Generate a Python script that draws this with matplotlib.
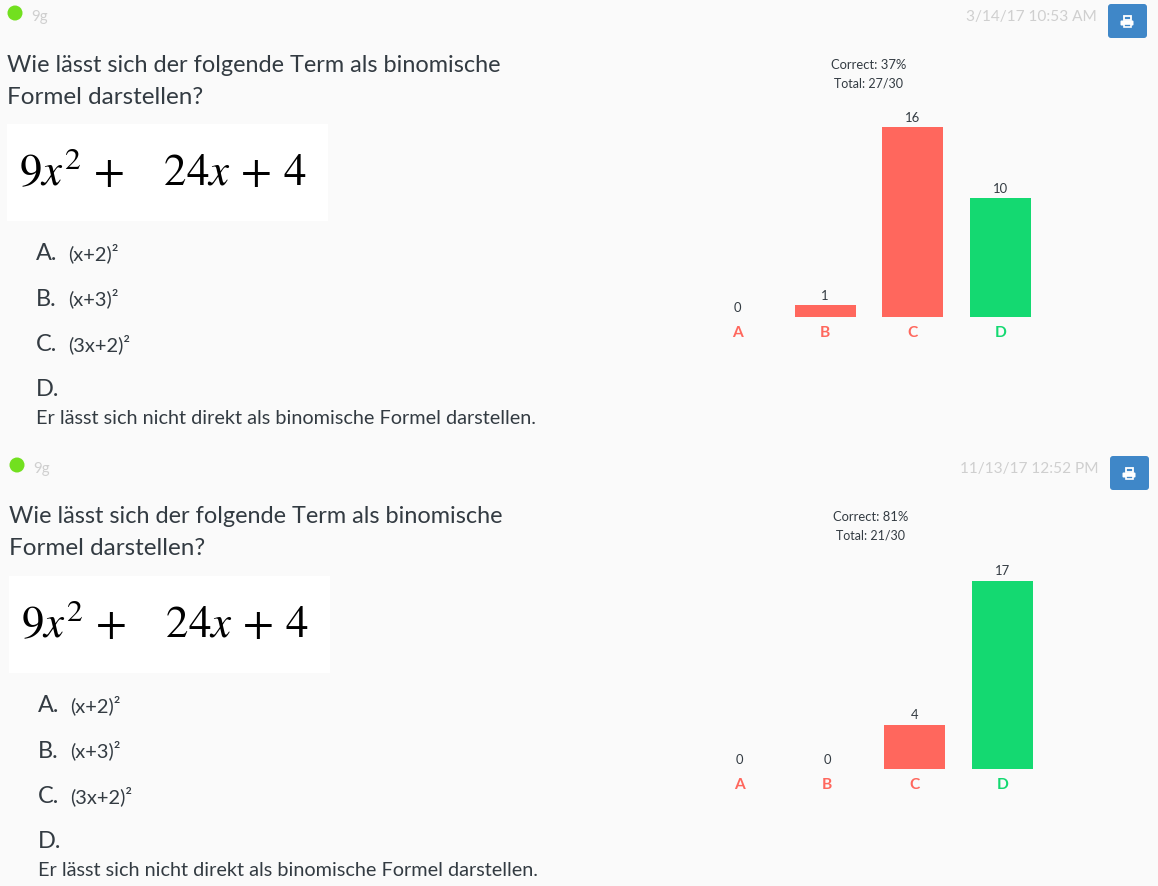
import matplotlib
matplotlib.use('Agg')
import matplotlib.pyplot as plt
from matplotlib.patches import Circle, FancyBboxPatch, Rectangle

plt.rcParams['font.family'] = ['Lato', 'DejaVu Sans']
plt.rcParams['mathtext.fontset'] = 'stix'

W, H = 1158, 887
BG = '#fafafa'
TEXT = '#333b42'
GREY = '#cfcfcf'
RED = '#ff675d'
GREEN = '#14d971'
BRIGHT = '#3f87c8'

categories = ['A', 'B', 'C', 'D']
answer_colors = [RED, RED, RED, GREEN]
counts_1 = [0, 1, 16, 10]
counts_2 = [0, 0, 4, 17]
dates = ['3/14/17 10:53 AM', '11/13/17 12:52 PM']
correct = ['Correct: 37%', 'Correct: 81%']
totals = ['Total: 27/30', 'Total: 21/30']
group = '9g'
question = ['Wie lässt sich der folgende Term als binomische', 'Formel darstellen?']
formula = r'$9x^{2}\,+\ \ \ 24x\,+\,4$'
options = ['(x+2)²', '(x+3)²', '(3x+2)²']
option_d = 'Er lässt sich nicht direkt als binomische Formel darstellen.'


def px(size):
    # font size in pixels to points at dpi 100
    return size * 0.72


def bar_axes(fig, left, right, top, bottom):
    return fig.add_axes([left / W, 1 - bottom / H, (right - left) / W, (bottom - top) / H])


def draw_printer(bg, x, y):
    # small white printer glyph on the button
    bg.add_patch(Rectangle((x - 3.5, y - 6), 7, 4, fc='none', ec='white', lw=1.3))
    bg.add_patch(FancyBboxPatch((x - 6.5, y - 1.5), 13, 5, boxstyle='round,pad=0,rounding_size=1', fc='white', ec='none'))
    bg.add_patch(Rectangle((x - 3.5, y + 1.5), 7, 3.5, fc=BRIGHT, ec='white', lw=1.2))


def draw_panel(fig, bg, dx, dy, counts, date, corr, total, date_x):
    bg.add_patch(Circle((15 + dx, 14 + dy), 7.5, fc='#72e01f', ec='none'))
    bg.text(31 + dx, 17 + dy, group, fontsize=px(15), color=GREY, va='center')
    bg.text(date_x, 17 + dy, date, fontsize=px(15.4), color=GREY, va='center', ha='right')
    bg.add_patch(FancyBboxPatch((1108 + dx, 5 + dy), 39, 34, boxstyle='round,pad=0,rounding_size=3',
                                fc=BRIGHT, ec='none'))
    draw_printer(bg, 1127 + dx, 23 + dy)

    bg.text(7 + dx, 65 + dy, question[0], fontsize=px(23.5), color=TEXT, va='center')
    bg.text(7 + dx, 97 + dy, question[1], fontsize=px(24.3), color=TEXT, va='center')

    bg.add_patch(Rectangle((7 + dx, 124.5 + dy), 321, 97, fc='white', ec='none'))
    bg.text(163 + dx, 172 + dy, formula, fontsize=px(45), color='black', ha='center', va='center')

    for i, opt in enumerate(options):
        y = 254 + 45.5 * i + dy
        bg.text(36 + dx, y, categories[i] + '.', fontsize=px(23.5), color=TEXT, va='center')
        bg.text(68 + dx, y - 1, opt, fontsize=px(20), color=TEXT, va='center')
    bg.text(36 + dx, 390 + dy, categories[3] + '.', fontsize=px(23.5), color=TEXT, va='center')
    bg.text(36 + dx, 418.5 + dy, option_d, fontsize=px(19.85), color=TEXT, va='center')

    bg.text(869 + dx, 65 + dy, corr, fontsize=px(13), color=TEXT, ha='center', va='center')
    bg.text(869 + dx, 84 + dy, total, fontsize=px(12.5), color=TEXT, ha='center', va='center')

    # bar chart, scaled so the tallest bar fills the axes height
    ax = bar_axes(fig, 694 + dx, 1044 + dx, 128 + dy + (1.5 if max(counts) == 17 else 0), 318 + dy)
    ax.patch.set_alpha(0)
    ax.bar(range(len(categories)), counts, width=0.7, color=answer_colors)
    ax.set_xlim(-0.5, 3.5)
    ax.set_ylim(0, max(counts))
    for i, c in enumerate(counts):
        ax.annotate(str(c), (i, c), xytext=(0, 3), textcoords='offset points', ha='center', va='bottom',
                    fontsize=px(13), color=TEXT, annotation_clip=False)
    for s in ax.spines.values():
        s.set_visible(False)
    ax.set_yticks([])
    ax.set_xticks(range(len(categories)), categories, fontsize=px(15.5), fontweight='bold')
    ax.tick_params(axis='x', length=0, pad=5.5)
    for lab, col in zip(ax.get_xticklabels(), answer_colors):
        lab.set_color(col)


fig = plt.figure(figsize=(W / 100, H / 100), dpi=100, facecolor=BG)
bg = fig.add_axes([0, 0, 1, 1])
bg.set_xlim(0, W)
bg.set_ylim(H, 0)
bg.axis('off')

draw_panel(fig, bg, 0, 0, counts_1, dates[0], correct[0], totals[0], 1097)
draw_panel(fig, bg, 2, 452, counts_2, dates[1], correct[1], totals[1], 1099)

fig.savefig('out.png', dpi=100, facecolor=BG)
plt.close()
